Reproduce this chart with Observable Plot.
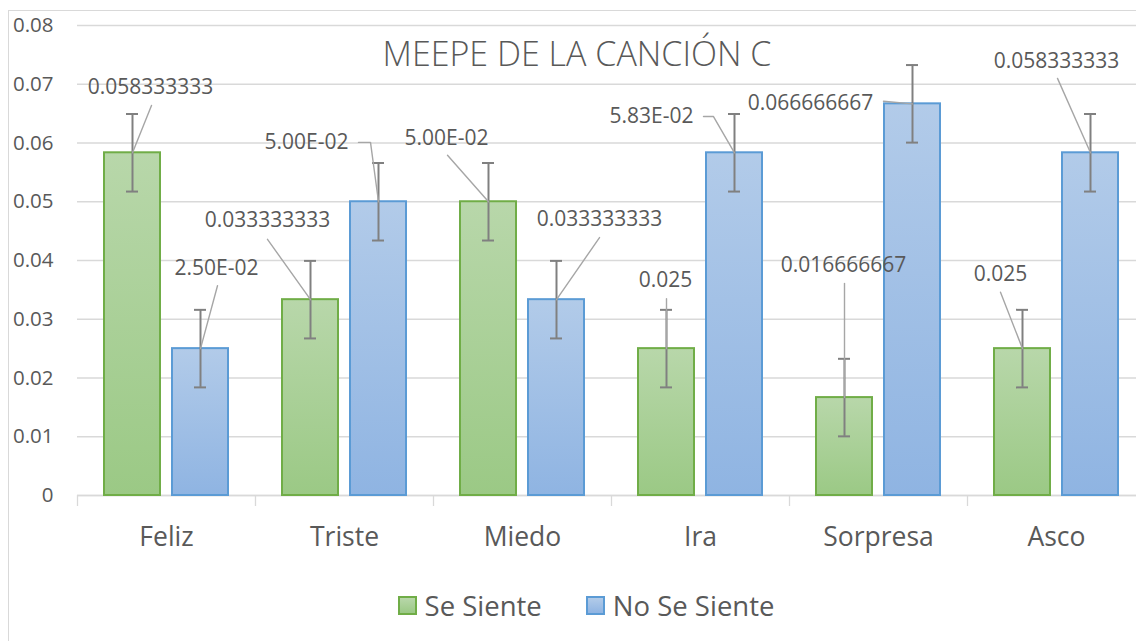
<!DOCTYPE html>
<html><head><meta charset="utf-8">
<script src="https://cdn.jsdelivr.net/npm/d3@7"></script>
<script src="https://cdn.jsdelivr.net/npm/@observablehq/plot@0.6"></script>
<style>
body{margin:0;background:#fff;overflow:hidden;font-family:"Open Sans",sans-serif;}
#wrap{position:relative;width:1136px;height:641px;overflow:hidden;background:#fff;}
#frame{position:absolute;left:8px;top:10px;width:1300px;height:800px;border:1px solid #d9d9d9;box-sizing:border-box;}
#chart{position:absolute;left:0;top:0;}
#title{position:absolute;left:0;width:1154px;top:36px;text-align:center;font-size:34px;line-height:34px;color:#595959;font-weight:300;white-space:nowrap;}
#legend{position:absolute;left:0;width:1172px;top:588px;height:34px;display:flex;justify-content:center;align-items:center;font-size:27.5px;color:#595959;white-space:nowrap;}
.item{display:flex;align-items:center;margin:0 22px;}
.sw{width:19px;height:19px;box-sizing:border-box;margin-right:8px;}
</style></head>
<body>
<div id="wrap">
  <div id="frame"></div>
  <div id="chart"></div>
  <div id="title"></div>
  <div id="legend"></div>
</div>
<script>
// ---- data ----
const categories = ["Feliz", "Triste", "Miedo", "Ira", "Sorpresa", "Asco"];
const seriesNames = ["Se Siente", "No Se Siente"];
const seSiente   = [0.058333333, 0.033333333, 0.05, 0.025, 0.016666667, 0.025];
const noSeSiente = [0.025, 0.05, 0.033333333, 0.058333333, 0.066666667, 0.058333333];
const errSeSiente   = [0.0066, 0.0066, 0.0066, 0.0066, 0.0066, 0.0066];
const errNoSeSiente = [0.0066, 0.0066, 0.0066, 0.0066, 0.0066, 0.0066];
const labelsSeSiente   = ["0.058333333", "0.033333333", "5.00E-02", "0.025", "0.016666667", "0.025"];
const labelsNoSeSiente = ["2.50E-02", "5.00E-02", "0.033333333", "5.83E-02", "0.066666667", "0.058333333"];
const yTicks = [0, 0.01, 0.02, 0.03, 0.04, 0.05, 0.06, 0.07, 0.08];
const titleText = "MEEPE DE LA CANCIÓN C";

// ---- layout (label placement: px offset from category centre, height in data units) ----
const labelLayoutSe = [
  {dx: -16, y: 0.0695, leader: [[-15, 0.0664]]},
  {dx: -77, y: 0.0468, leader: [[-77, 0.0436]]},
  {dx: -76, y: 0.0608, leader: [[-75, 0.0579]]},
  {dx: -35, y: 0.0366, leader: [[-34, 0.0335]]},
  {dx: -35, y: 0.0392, leader: [[-34, 0.0361]]},
  {dx: -56, y: 0.0376, leader: [[-56, 0.0346]]}
];
const labelLayoutNo = [
  {dx: 50, y: 0.0386, leader: [[51, 0.0357]]},
  {dx: -38, y: 0.0601, leader: [[14, 0.0601], [26, 0.0601]]},
  {dx: 77, y: 0.0470, leader: [[77, 0.0439]]},
  {dx: -49, y: 0.0645, leader: [[3, 0.0645], [13, 0.0645]]},
  {dx: -68, y: 0.0667, leader: [[5, 0.0671]]},
  {dx: 0, y: 0.0739, leader: [[1, 0.0710]]}
];

const BAND = 178;          // px per category
const seriesOffset = [-34, 34];
const halfBar = 28;
const halfCap = 6;
const u = px => px / BAND;
const TEXT = "#595959";
const GRID = "#d9d9d9";

const seriesVals = [seSiente, noSeSiente];
const seriesErr = [errSeSiente, errNoSeSiente];
const seriesLabels = [labelsSeSiente, labelsNoSeSiente];
const seriesLayout = [labelLayoutSe, labelLayoutNo];

const rows = [];
const labelRows = [];
const leaderRows = [];
seriesVals.forEach((vals, s) => {
  vals.forEach((v, i) => {
    const c = i + 0.5;
    const xc = c + u(seriesOffset[s]);
    rows.push({s, i, v, xc, x1: xc - u(halfBar), x2: xc + u(halfBar),
      lo: v - seriesErr[s][i], hi: v + seriesErr[s][i],
      c1: xc - u(halfCap), c2: xc + u(halfCap)});
    const L = seriesLayout[s][i];
    labelRows.push({x: c + u(L.dx), y: L.y, text: seriesLabels[s][i]});
    const id = s * 10 + i;
    L.leader.forEach(p => leaderRows.push({id, x: c + u(p[0]), y: p[1]}));
    leaderRows.push({id, x: xc, y: v});
  });
});
const green = rows.filter(d => d.s === 0);
const blue = rows.filter(d => d.s === 1);

const plot = Plot.plot({
  width: 1136,
  height: 570,
  marginLeft: 77,
  marginRight: 0,
  marginTop: 25,
  marginBottom: 75,
  style: {fontFamily: "Open Sans", color: TEXT, background: "transparent", overflow: "visible"},
  x: {domain: [0, 6], range: [77, 1145]},
  y: {domain: [0, 0.08]},
  marks: [
    Plot.gridY(yTicks, {stroke: GRID, strokeOpacity: 1, strokeWidth: 1.3}),
    Plot.ruleY([0], {stroke: GRID, strokeWidth: 1.3}),
    Plot.axisY({ticks: yTicks, tickSize: 0, tickPadding: 24, fontSize: 20.5, fill: TEXT,
      tickFormat: d => d === 0 ? "0" : d.toFixed(2)}),
    Plot.axisX({ticks: d3.range(0, 7), tickSize: 11, stroke: GRID, strokeWidth: 1.3, tickFormat: () => ""}),
    Plot.axisX({ticks: categories.map((c, i) => i + 0.5), tickSize: 0, tickPadding: 32, fontSize: 26.5, fill: TEXT,
      tickFormat: d => categories[Math.floor(d)]}),
    Plot.rectY(green, {x1: "x1", x2: "x2", y1: 0, y2: "v", fill: "url(#gGreen)", stroke: "#70ad47", strokeWidth: 2}),
    Plot.rectY(blue, {x1: "x1", x2: "x2", y1: 0, y2: "v", fill: "url(#gBlue)", stroke: "#5b9bd5", strokeWidth: 2}),
    Plot.ruleX(rows, {x: "xc", y1: "lo", y2: "hi", stroke: "#808080", strokeWidth: 2}),
    Plot.ruleY(rows, {y: "lo", x1: "c1", x2: "c2", stroke: "#808080", strokeWidth: 2}),
    Plot.ruleY(rows, {y: "hi", x1: "c1", x2: "c2", stroke: "#808080", strokeWidth: 2}),
    Plot.line(leaderRows, {x: "x", y: "y", z: "id", stroke: "#a6a6a6", strokeWidth: 1.4}),
    Plot.text(labelRows, {x: "x", y: "y", text: "text", fontSize: 21, fill: TEXT, lineAnchor: "middle", textAnchor: "middle"})
  ]
});

const svg = d3.select(plot.tagName.toLowerCase() === "svg" ? plot : plot.querySelector("svg"));
const defs = svg.insert("defs", ":first-child");
function grad(id, c0, c1) {
  const g = defs.append("linearGradient").attr("id", id).attr("x1", 0).attr("y1", 0).attr("x2", 0).attr("y2", 1);
  g.append("stop").attr("offset", "0%").attr("stop-color", c0);
  g.append("stop").attr("offset", "100%").attr("stop-color", c1);
}
grad("gGreen", "#b8d7aa", "#9bc985");
grad("gBlue", "#b2cbe9", "#8fb4e2");
document.getElementById("chart").appendChild(plot);

document.getElementById("title").textContent = titleText;

const legend = document.getElementById("legend");
const swatchStyles = [
  "background:linear-gradient(#b8d7aa,#9bc985);border:2px solid #70ad47;",
  "background:linear-gradient(#b2cbe9,#8fb4e2);border:2px solid #5b9bd5;"
];
seriesNames.forEach((name, s) => {
  const item = document.createElement("div");
  item.className = "item";
  const sw = document.createElement("div");
  sw.className = "sw";
  sw.style.cssText = swatchStyles[s];
  const t = document.createElement("span");
  t.textContent = name;
  item.appendChild(sw); item.appendChild(t);
  legend.appendChild(item);
});
</script>
</body></html>
